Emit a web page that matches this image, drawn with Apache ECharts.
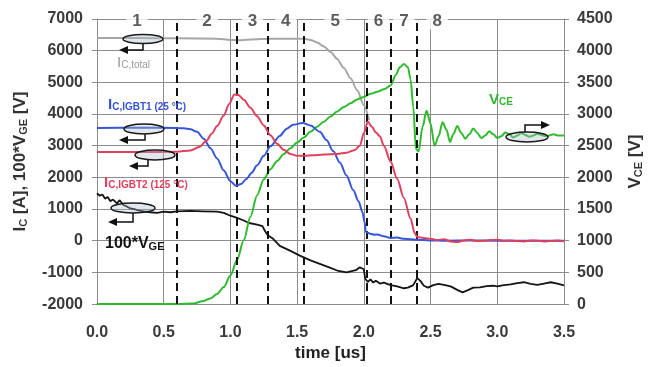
<!DOCTYPE html>
<html><head><meta charset="utf-8">
<script src="https://cdn.jsdelivr.net/npm/echarts@6/dist/echarts.min.js"></script>
<style>html,body{margin:0;padding:0;background:#fff}#c{width:659px;height:367px}</style>
</head><body><div id="c"></div><script>
// ---- data (time in us, value) ----
var icTotal = [[0,6400],[0.3,6400],[0.6,6390],[0.9,6380],[1.0,6340],[1.05,6330],[1.15,6350],[1.3,6380],[1.55,6380],[1.6,6340],[1.65,6260],[1.7,6130],[1.75,5960],[1.8,5740],[1.85,5450],[1.9,5130],[1.95,4750],[2.0,4280],[2.04,3800]];
var icIgbt1 = [[0,3560],[0.3,3570],[0.6,3560],[0.65,3550],[0.7,3520],[0.75,3440],[0.8,3220],[0.85,2920],[0.9,2600],[0.95,2220],[1.0,1880],[1.04,1740],[1.08,1790],[1.12,1950],[1.16,2150],[1.2,2380],[1.25,2680],[1.3,2980],[1.37,3310],[1.42,3530],[1.47,3660],[1.54,3720],[1.6,3640],[1.67,3440],[1.72,3180],[1.77,2830],[1.82,2470],[1.87,2060],[1.92,1600],[1.96,1250],[1.99,900],[2.005,600],[2.015,280],[2.03,250],[2.05,220],[2.08,190],[2.1,200],[2.15,140],[2.2,90],[2.25,100],[2.3,60],[2.35,50],[2.4,30],[2.45,20],[2.5,10],[2.6,0],[2.8,10],[3.0,0],[3.2,0],[3.5,0]];
var icIgbt2 = [[0,2800],[0.3,2800],[0.6,2810],[0.7,2850],[0.77,2970],[0.82,3160],[0.86,3380],[0.9,3620],[0.95,3950],[0.99,4320],[1.03,4620],[1.06,4600],[1.1,4450],[1.15,4200],[1.2,3930],[1.25,3640],[1.3,3330],[1.35,3060],[1.4,2870],[1.45,2740],[1.5,2680],[1.55,2680],[1.62,2700],[1.7,2720],[1.8,2740],[1.87,2780],[1.93,2860],[1.97,3000],[2.0,3400],[2.03,3760],[2.06,3600],[2.09,3420],[2.12,3300],[2.15,3000],[2.2,2500],[2.25,1950],[2.3,1350],[2.35,700],[2.38,250],[2.4,120],[2.45,90],[2.5,60],[2.55,20],[2.6,50],[2.65,-20],[2.7,-40],[2.75,10],[2.8,30],[2.85,-10],[2.9,0],[2.95,20],[3.0,30],[3.05,0],[3.1,10],[3.15,-10],[3.2,-20],[3.25,10],[3.3,0],[3.35,-20],[3.4,-10],[3.45,10],[3.5,-20]];
var vce = [[0,0],[0.6,0],[0.72,10],[0.8,50],[0.85,90],[0.9,160],[0.95,270],[1.0,450],[1.05,700],[1.1,1010],[1.15,1380],[1.2,1720],[1.25,1970],[1.3,2130],[1.35,2260],[1.4,2370],[1.45,2460],[1.5,2550],[1.55,2630],[1.6,2720],[1.65,2800],[1.7,2880],[1.75,2960],[1.8,3040],[1.85,3110],[1.9,3170],[1.95,3230],[2.0,3270],[2.05,3320],[2.1,3350],[2.15,3390],[2.2,3450],[2.24,3620],[2.27,3740],[2.3,3790],[2.33,3740],[2.35,3550],[2.37,3120],[2.39,2450],[2.41,2410],[2.44,2800],[2.47,3050],[2.5,2850],[2.53,2500],[2.56,2650],[2.59,2870],[2.62,2750],[2.645,2560],[2.67,2680],[2.7,2810],[2.73,2700],[2.76,2610],[2.79,2680],[2.82,2770],[2.85,2700],[2.88,2620],[2.91,2660],[2.94,2730],[2.97,2680],[3.0,2620],[3.03,2650],[3.06,2710],[3.09,2680],[3.12,2630],[3.15,2660],[3.18,2700],[3.21,2670],[3.24,2640],[3.27,2660],[3.3,2690],[3.33,2670],[3.36,2650],[3.39,2660],[3.42,2680],[3.46,2660],[3.5,2660]];
var vge100 = [[0,1500],[0.02,1420],[0.04,1460],[0.06,1330],[0.08,1380],[0.1,1250],[0.12,1300],[0.15,1180],[0.17,1280],[0.2,1120],[0.22,1090],[0.25,1020],[0.28,1000],[0.3,970],[0.35,930],[0.4,900],[0.45,880],[0.5,920],[0.55,900],[0.6,930],[0.7,940],[0.8,930],[0.9,920],[0.95,880],[1.0,790],[1.05,720],[1.1,640],[1.14,560],[1.2,510],[1.24,460],[1.26,300],[1.28,170],[1.32,60],[1.37,-160],[1.45,-320],[1.52,-470],[1.6,-620],[1.67,-730],[1.74,-840],[1.8,-940],[1.87,-1000],[1.94,-930],[1.97,-840],[2.0,-900],[2.01,-1200],[2.02,-1150],[2.03,-1300],[2.05,-1220],[2.07,-1320],[2.09,-1260],[2.12,-1350],[2.15,-1320],[2.2,-1400],[2.25,-1440],[2.3,-1500],[2.33,-1480],[2.37,-1400],[2.4,-1180],[2.42,-1250],[2.45,-1420],[2.48,-1480],[2.52,-1400],[2.56,-1360],[2.6,-1390],[2.65,-1440],[2.7,-1550],[2.74,-1630],[2.78,-1560],[2.82,-1480],[2.87,-1470],[2.92,-1430],[2.97,-1420],[3.0,-1440],[3.05,-1400],[3.1,-1380],[3.15,-1340],[3.2,-1310],[3.25,-1360],[3.3,-1390],[3.35,-1350],[3.4,-1310],[3.45,-1350],[3.5,-1410]];
var regionBounds = [0.6, 1.05, 1.28, 1.55, 2.02, 2.2, 2.4];
var regionLabelT = [0.3, 0.825, 1.165, 1.415, 1.785, 2.11, 2.3, 2.55];
var regionNames = ['1','2','3','4','5','6','7','8'];

var chart = echarts.init(document.getElementById('c'));
var FONT = '"Liberation Sans", Arial, sans-serif';
var gridCol = '#8c8c8c';
var tickLbl = {color:'#3a3a3a', fontSize:16, fontWeight:'bold', fontFamily:FONT};
var plain = function(v){return String(v);};

var regionPts = regionLabelT.map(function(t,i){return {value:[t,7000], name:regionNames[i]};});

chart.setOption({
  animation:false,
  textStyle:{fontFamily:FONT},
  grid:{left:97, right:95, top:19, bottom:60},
  xAxis:{type:'value', min:0, max:3.5, interval:0.5,
    name:'time [us]', nameLocation:'middle', nameGap:36,
    nameTextStyle:{color:'#222', fontSize:17, fontWeight:'bold', fontFamily:FONT},
    axisLine:{lineStyle:{color:gridCol}}, axisTick:{show:true, length:5, lineStyle:{color:gridCol}},
    axisLabel:Object.assign({margin:20, formatter:function(v){return v.toFixed(1);}}, tickLbl),
    splitLine:{show:true, lineStyle:{color:gridCol, width:1}}},
  yAxis:[
    {type:'value', min:-2000, max:7000, interval:1000,
     name:'{n|I}{s|C}{n| [A], 100*V}{s|GE}{n| [V]}', nameLocation:'middle', nameGap:68, nameRotate:90,
     nameTextStyle:{rich:{n:{color:'#333',fontSize:17,fontWeight:'bold',fontFamily:FONT,lineHeight:20,verticalAlign:'bottom'},
                          s:{color:'#333',fontSize:11,fontWeight:'bold',fontFamily:FONT,lineHeight:14,verticalAlign:'bottom'}}},
     axisLine:{show:true, lineStyle:{color:gridCol}}, axisTick:{show:true, length:5, lineStyle:{color:gridCol}},
     axisLabel:Object.assign({margin:14, formatter:plain}, tickLbl),
     splitLine:{show:true, lineStyle:{color:gridCol, width:1}}},
    {type:'value', min:0, max:4500, interval:500,
     name:'{n|V}{s|CE}{n| [V]}', nameLocation:'middle', nameGap:60, nameRotate:90,
     nameTextStyle:{rich:{n:{color:'#333',fontSize:17,fontWeight:'bold',fontFamily:FONT,lineHeight:20,verticalAlign:'bottom'},
                          s:{color:'#333',fontSize:11,fontWeight:'bold',fontFamily:FONT,lineHeight:14,verticalAlign:'bottom'}}},
     axisLine:{show:true, lineStyle:{color:gridCol}}, axisTick:{show:true, length:5, lineStyle:{color:gridCol}},
     axisLabel:Object.assign({margin:13, formatter:plain}, tickLbl),
     splitLine:{show:false}}
  ],
  series:[
    {name:'regions', type:'scatter', yAxisIndex:0, data:regionPts, symbol:'rect', symbolSize:1,
     itemStyle:{color:'rgba(0,0,0,0)'}, z:10, silent:true,
     label:{show:true, position:'inside', offset:[0,2], formatter:function(p){return p.name;},
            color:'#333', fontSize:17, fontWeight:'bold', fontFamily:FONT, backgroundColor:'#fff', padding:[0,6]},
     markLine:{silent:true, symbol:['none','none'], label:{show:false},
       lineStyle:{color:'#111', type:[8,5], width:2},
       data:regionBounds.map(function(b){return {xAxis:b};})}},
    {name:'IC,total', type:'line', data:icTotal, showSymbol:false, smooth:0.3, smoothMonotone:'x',
     lineStyle:{color:'#a6a6a6', width:2}, itemStyle:{color:'#a6a6a6'}, z:3},
    {name:'100*VGE', type:'line', data:vge100, showSymbol:false,
     lineStyle:{color:'#151515', width:1.8}, itemStyle:{color:'#151515'}, z:3},
    {name:'VCE', type:'line', yAxisIndex:1, data:vce, showSymbol:false, smooth:0.3, smoothMonotone:'x',
     lineStyle:{color:'#2fbb2f', width:2}, itemStyle:{color:'#2fbb2f'}, z:4},
    {name:'IC,IGBT1', type:'line', data:icIgbt1, showSymbol:false, smooth:0.3, smoothMonotone:'x',
     lineStyle:{color:'#3656d8', width:2}, itemStyle:{color:'#3656d8'}, z:5},
    {name:'IC,IGBT2', type:'line', data:icIgbt2, showSymbol:false, smooth:0.3, smoothMonotone:'x',
     lineStyle:{color:'#e0405e', width:2}, itemStyle:{color:'#e0405e'}, z:6}
  ]
});

// ---- annotations (labels, ellipses, arrows) ----
function lbl(x,y,text,color,bold,size){
  return {type:'text', left:x, top:y, z:100, style:{text:text, rich:{
    m:{fill:color, fontSize:size, fontWeight:bold?'bold':'normal', fontFamily:FONT, lineHeight:size+3, verticalAlign:'bottom'},
    s:{fill:color, fontSize:Math.round(size*0.68), fontWeight:bold?'bold':'normal', fontFamily:FONT, lineHeight:12, verticalAlign:'bottom'}}}};
}
function ell(cx,cy,rx,ry){
  return {type:'ellipse', z:100, shape:{cx:cx,cy:cy,rx:rx,ry:ry}, style:{fill:'rgba(170,185,200,0.35)', stroke:'#1a1a1a', lineWidth:1.5}};
}
function arrow(pts, dir){
  var tip = pts[pts.length-1], head;
  if(dir<0) head=[[tip[0]-9,tip[1]],[tip[0],tip[1]-4],[tip[0],tip[1]+4]];
  else head=[[tip[0]+9,tip[1]],[tip[0],tip[1]-4],[tip[0],tip[1]+4]];
  return [{type:'polyline', z:100, shape:{points:pts}, style:{stroke:'#111', lineWidth:1.5, fill:null}},
          {type:'polygon', z:100, shape:{points:head}, style:{fill:'#111'}}];
}
var g = [];
g.push(lbl(117,55,'{m|I}{s|C,total}','#9a9a9a',false,15));
g.push(lbl(108,97,'{m|I}{s|C,IGBT1 (25 °C)}','#3656d8',true,15));
g.push(lbl(104,175,'{m|I}{s|C,IGBT2 (125 °C)}','#e0405e',true,15));
g.push(lbl(105,236,'{m|100*V}{s|GE}','#151515',true,16));
g.push(lbl(489,92,'{m|V}{s|CE}','#2fbb2f',true,15));
g.push(ell(143,39,20,4.5));
g.push(ell(144,129,20,5));
g.push(ell(155,155,20,5));
g.push(ell(133,208,22,5));
g.push(ell(527,137,21,5));
g = g.concat(arrow([[143,44],[143,50],[128,50]],-1));
g = g.concat(arrow([[145,134],[145,140],[128,140]],-1));
g = g.concat(arrow([[148,160],[148,166],[138,166]],-1));
g = g.concat(arrow([[133,213],[133,222],[117,222]],-1));
g = g.concat(arrow([[525,132],[525,125],[541,125]],1));
chart.setOption({graphic:g});
</script></body></html>
